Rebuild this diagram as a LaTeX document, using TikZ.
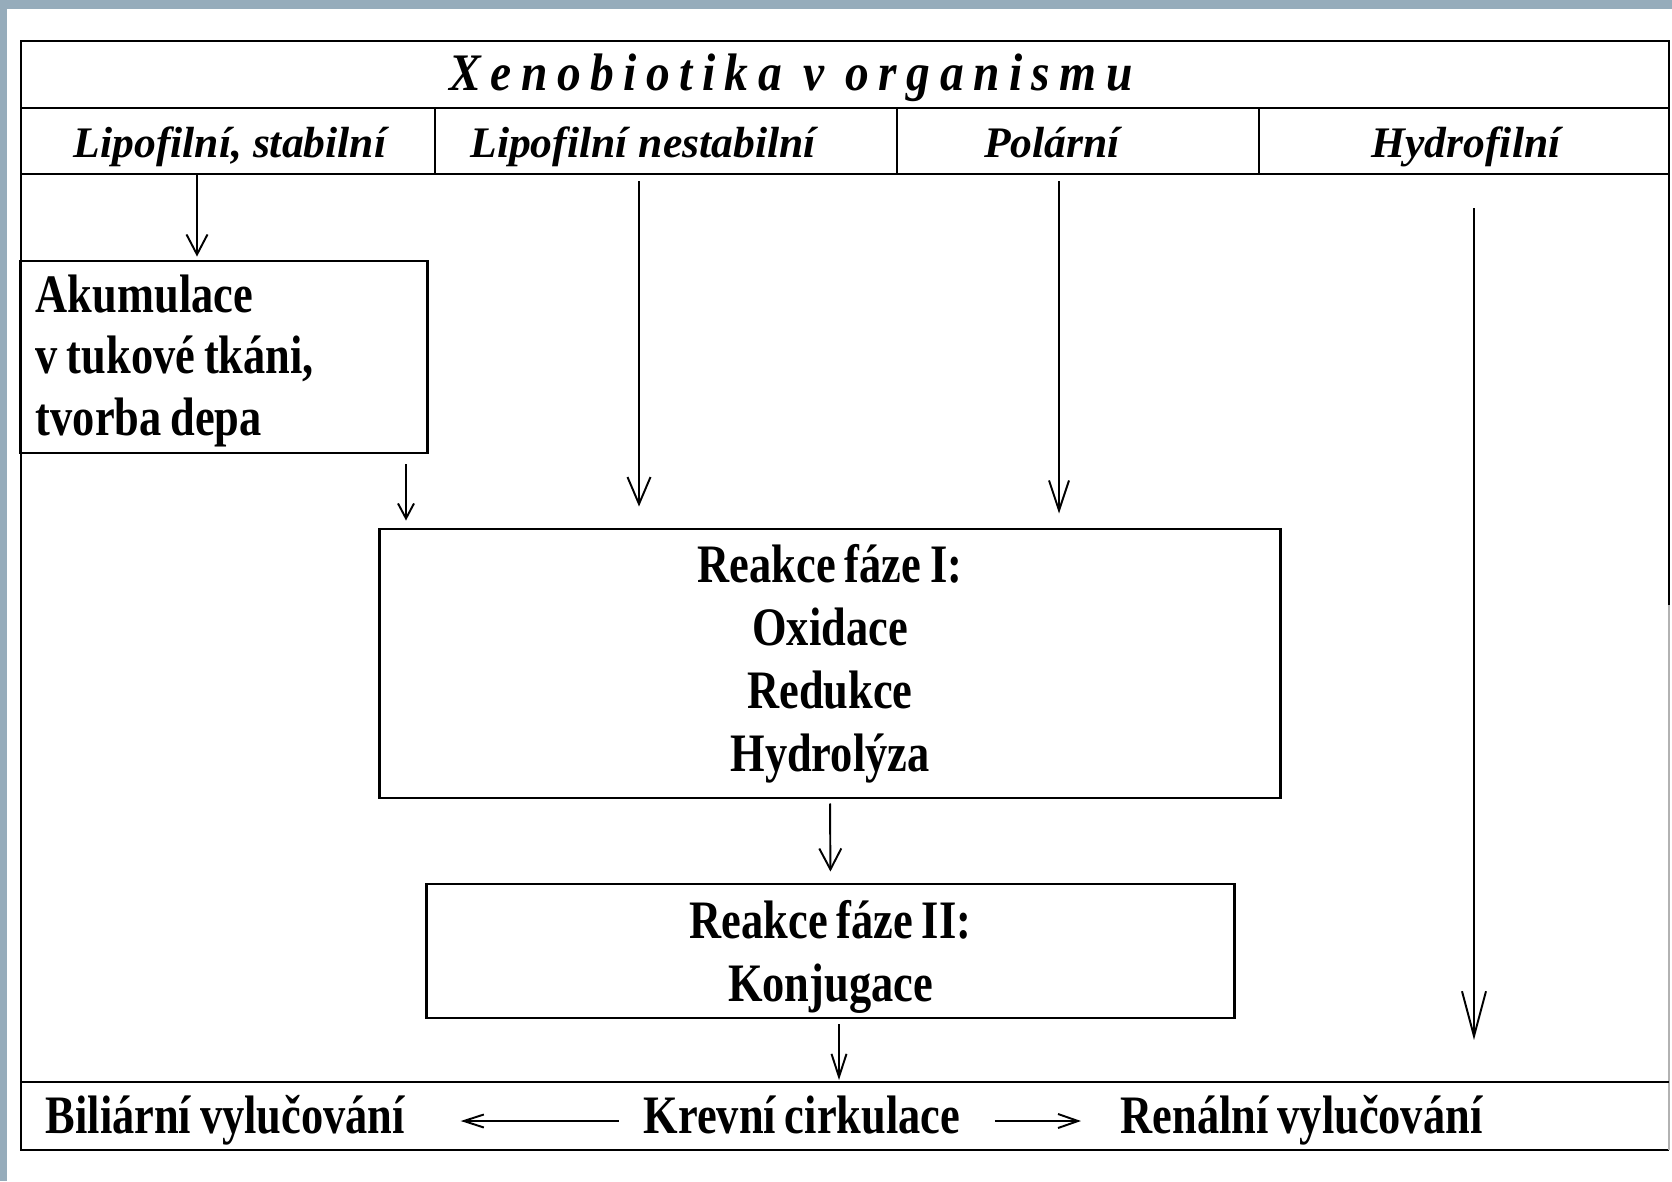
\documentclass[tikz,border=0pt]{standalone}
\usepackage{xcolor}
\usepackage{fontspec}
\setmainfont{Liberation Serif}
\newfontfamily\condfont[FakeStretch=0.82,WordSpace=0.8]{Liberation Serif}
\newfontfamily\spacedfont[LetterSpace=18,FakeStretch=0.9]{Liberation Serif}
\definecolor{slide}{RGB}{150,172,187}
\usetikzlibrary{positioning,arrows.meta}

\begin{document}
\begin{tikzpicture}[x=0.01cm, y=-0.01cm,
  frame/.style = {line width=0.8pt},
  box/.style = {draw, line width=0.8pt, inner sep=0pt, align=center, execute at begin node={\spaceskip=0pt}, font=\condfont\bfseries\fontsize{15.4}{17.9}\selectfont},
  hdr/.style = {anchor=base, inner sep=0pt, font=\bfseries\itshape\fontsize{12.4}{14}\selectfont},
  bot/.style = {anchor=base west, inner sep=0pt, text height=0.36cm, text depth=0.12cm, font=\condfont\bfseries\fontsize{15.4}{17.9}\selectfont},
  arr/.style 2 args = {-{Straight Barb[length=#1mm, width=#2mm]}, line width=0.55pt}]

  \useasboundingbox (0,0) rectangle (1672,1181);
  \fill[slide] (0,0) rectangle (1672,1181);
  \fill[white] (7,9) rectangle (1672,1181);

  \draw[frame] (1669,605) -- (1669,41) -- (21,41) -- (21,1150) -- (1669,1150);
  \draw[gray!60, line width=0.3pt] (1669,605) -- (1669,1150);
  \draw[frame] (21,108) -- (1669,108);
  \draw[frame] (21,174) -- (1669,174);
  \draw[frame] (21,1082) -- (1669,1082);
  \foreach \x in {435,897,1259} \draw[frame] (\x,108) -- (\x,174);

  \node[anchor=base, inner sep=0pt, font=\spacedfont\bfseries\itshape\fontsize{15}{17}\selectfont] (title) at (791,90) {Xenobiotika v organismu};

  \node[hdr] (lipst) at (230,157) {Lipofilní, stabilní};
  \node[hdr] (lipne) at (643,157) {Lipofilní nestabilní};
  \node[hdr] (pol) at (1052,157) {Polární};
  \node[hdr] (hydro) at (1466,157) {Hydrofilní};

  \node[box, minimum width=4.06cm, minimum height=1.92cm, text width=3.76cm, align=left, font=\condfont\bfseries\fontsize{15.4}{17.5}\selectfont] (akum) at (224,357) {\rule{0pt}{0.45cm}Akumulace\\v tukové tkáni,\\tvorba depa};
  \node[box, minimum width=9.0cm, minimum height=2.69cm] (faze1) at (830,663.5) {Reakce fáze I:\\Oxidace\\Redukce\\Hydrolýza};
  \node[box, minimum width=8.07cm, minimum height=1.34cm, text depth=0pt] (faze2) at (830.5,951) {Reakce fáze II:\\Konjugace};

  \node[bot] (bil) at (45,1133) {Biliární vylučování};
  \node[bot] (krev) at (643,1133) {Krevní cirkulace};
  \node[bot] (ren) at (1120,1133) {Renální vylučování};

  \coordinate (a1) at (197,174);
  \coordinate (a2) at (406,464);
  \coordinate (a3) at (639,181);
  \coordinate (a4) at (1059,181);
  \coordinate (a5) at (1474,208);
  \coordinate (a7) at (839,1082);

  \draw[arr={2.0}{2.1}, shorten >=0.03cm] (a1) -- (a1 |- akum.north);
  \draw[arr={1.5}{1.6}, shorten >=0.07cm] (a2) -- (a2 |- faze1.north);
  \draw[arr={2.7}{2.3}, shorten >=0.21cm] (a3) -- (a3 |- faze1.north);
  \draw[arr={3.0}{2.0}, shorten >=0.14cm] (a4) -- (a4 |- faze1.north);
  \draw[arr={4.5}{2.4}, shorten >=0.42cm] (a5) -- (a5 |- a7);
  \draw[arr={2.1}{2.2}, shorten <=0.04cm, shorten >=0.11cm] (faze1.south) -- (faze2.north);
  \draw[arr={2.3}{1.5}, shorten <=0.05cm, shorten >=0.02cm] (faze2.south -| a7) -- (a7);
  \draw[arr={2.0}{1.3}, shorten <=0.24cm, shorten >=0.55cm] (krev.west) -- (bil.east);
  \draw[arr={2.0}{1.4}, shorten <=0.34cm, shorten >=0.39cm] (krev.east) -- (ren.west);
\end{tikzpicture}
\end{document}
